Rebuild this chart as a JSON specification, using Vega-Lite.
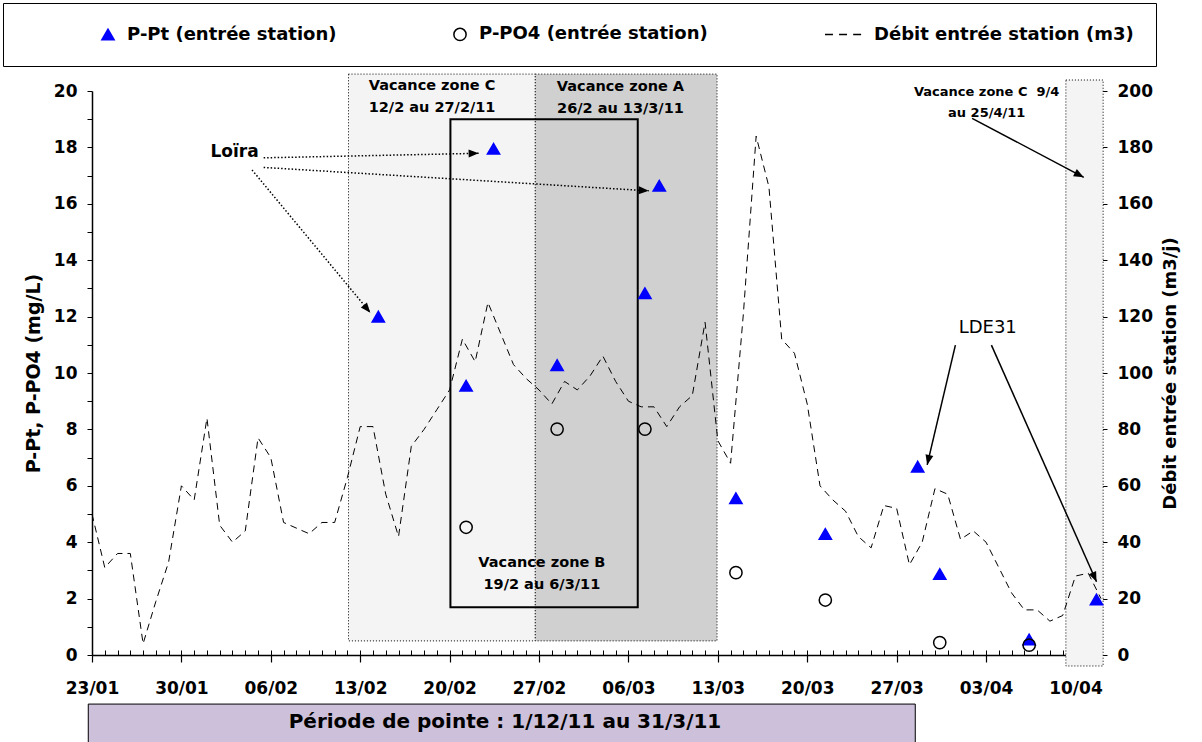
{
  "$schema": "https://vega.github.io/schema/vega-lite/v6.json",
  "width": 1009,
  "height": 564,
  "autosize": "none",
  "padding": {"left": 92, "top": 91, "right": 101, "bottom": 87},
  "background": "white",
  "config": {"font": "DejaVu Sans", "view": {"stroke": null}},
  "datasets": {
    "debit": [
      {"date": "2011-01-23T00:00", "q": 50}, {"date": "2011-01-24T00:00", "q": 31}, {"date": "2011-01-25T00:00", "q": 36},
      {"date": "2011-01-26T00:00", "q": 36}, {"date": "2011-01-27T00:00", "q": 4}, {"date": "2011-01-28T00:00", "q": 19},
      {"date": "2011-01-29T00:00", "q": 33}, {"date": "2011-01-30T00:00", "q": 60}, {"date": "2011-01-31T00:00", "q": 55},
      {"date": "2011-02-01T00:00", "q": 84}, {"date": "2011-02-02T00:00", "q": 46}, {"date": "2011-02-03T00:00", "q": 40},
      {"date": "2011-02-04T00:00", "q": 44}, {"date": "2011-02-05T00:00", "q": 77}, {"date": "2011-02-06T00:00", "q": 70},
      {"date": "2011-02-07T00:00", "q": 47}, {"date": "2011-02-08T00:00", "q": 45}, {"date": "2011-02-09T00:00", "q": 43},
      {"date": "2011-02-10T00:00", "q": 47}, {"date": "2011-02-11T00:00", "q": 47}, {"date": "2011-02-12T00:00", "q": 63},
      {"date": "2011-02-13T00:00", "q": 81}, {"date": "2011-02-14T00:00", "q": 81}, {"date": "2011-02-15T00:00", "q": 57},
      {"date": "2011-02-16T00:00", "q": 42}, {"date": "2011-02-17T00:00", "q": 74}, {"date": "2011-02-18T00:00", "q": 80},
      {"date": "2011-02-19T00:00", "q": 87}, {"date": "2011-02-20T00:00", "q": 94}, {"date": "2011-02-21T00:00", "q": 112},
      {"date": "2011-02-22T00:00", "q": 104}, {"date": "2011-02-23T00:00", "q": 125}, {"date": "2011-02-24T00:00", "q": 114},
      {"date": "2011-02-25T00:00", "q": 103}, {"date": "2011-02-26T00:00", "q": 98}, {"date": "2011-02-27T00:00", "q": 94},
      {"date": "2011-02-28T00:00", "q": 89}, {"date": "2011-03-01T00:00", "q": 97}, {"date": "2011-03-02T00:00", "q": 94},
      {"date": "2011-03-03T00:00", "q": 99}, {"date": "2011-03-04T00:00", "q": 106}, {"date": "2011-03-05T00:00", "q": 97},
      {"date": "2011-03-06T00:00", "q": 90}, {"date": "2011-03-07T00:00", "q": 88}, {"date": "2011-03-08T00:00", "q": 88},
      {"date": "2011-03-09T00:00", "q": 81}, {"date": "2011-03-10T00:00", "q": 88}, {"date": "2011-03-11T00:00", "q": 92},
      {"date": "2011-03-12T00:00", "q": 118}, {"date": "2011-03-13T00:00", "q": 76}, {"date": "2011-03-14T00:00", "q": 68},
      {"date": "2011-03-15T00:00", "q": 121}, {"date": "2011-03-16T00:00", "q": 184}, {"date": "2011-03-17T00:00", "q": 166},
      {"date": "2011-03-18T00:00", "q": 112}, {"date": "2011-03-19T00:00", "q": 107}, {"date": "2011-03-20T00:00", "q": 89},
      {"date": "2011-03-21T00:00", "q": 60}, {"date": "2011-03-22T00:00", "q": 55}, {"date": "2011-03-23T00:00", "q": 51},
      {"date": "2011-03-24T00:00", "q": 42}, {"date": "2011-03-25T00:00", "q": 38}, {"date": "2011-03-26T00:00", "q": 53},
      {"date": "2011-03-27T00:00", "q": 52}, {"date": "2011-03-28T00:00", "q": 32}, {"date": "2011-03-29T00:00", "q": 40},
      {"date": "2011-03-30T00:00", "q": 59}, {"date": "2011-03-31T00:00", "q": 57}, {"date": "2011-04-01T00:00", "q": 41},
      {"date": "2011-04-02T00:00", "q": 44}, {"date": "2011-04-03T00:00", "q": 40}, {"date": "2011-04-04T00:00", "q": 31},
      {"date": "2011-04-05T00:00", "q": 22}, {"date": "2011-04-06T00:00", "q": 16}, {"date": "2011-04-07T00:00", "q": 16},
      {"date": "2011-04-08T00:00", "q": 12}, {"date": "2011-04-09T00:00", "q": 14}, {"date": "2011-04-10T00:00", "q": 28},
      {"date": "2011-04-11T00:00", "q": 29}, {"date": "2011-04-12T00:00", "q": 20}
    ],
    "phosphore": [
      {"serie": "P-Pt (entrée station)", "date": "2011-02-14T10:00", "c": 12.0},
      {"serie": "P-Pt (entrée station)", "date": "2011-02-21T07:00", "c": 9.55},
      {"serie": "P-Pt (entrée station)", "date": "2011-02-23T10:30", "c": 17.95},
      {"serie": "P-Pt (entrée station)", "date": "2011-02-28T10:00", "c": 10.28},
      {"serie": "P-Pt (entrée station)", "date": "2011-03-07T07:00", "c": 12.83},
      {"serie": "P-Pt (entrée station)", "date": "2011-03-08T10:00", "c": 16.64},
      {"serie": "P-Pt (entrée station)", "date": "2011-03-14T10:00", "c": 5.56},
      {"serie": "P-Pt (entrée station)", "date": "2011-03-21T10:00", "c": 4.29},
      {"serie": "P-Pt (entrée station)", "date": "2011-03-28T15:30", "c": 6.68},
      {"serie": "P-Pt (entrée station)", "date": "2011-03-30T09:00", "c": 2.87},
      {"serie": "P-Pt (entrée station)", "date": "2011-04-06T09:00", "c": 0.55},
      {"serie": "P-Pt (entrée station)", "date": "2011-04-11T15:30", "c": 1.97},
      {"serie": "P-PO4 (entrée station)", "date": "2011-02-21T07:00", "c": 4.53},
      {"serie": "P-PO4 (entrée station)", "date": "2011-02-28T10:00", "c": 8.01},
      {"serie": "P-PO4 (entrée station)", "date": "2011-03-07T07:00", "c": 8.01},
      {"serie": "P-PO4 (entrée station)", "date": "2011-03-14T10:00", "c": 2.92},
      {"serie": "P-PO4 (entrée station)", "date": "2011-03-21T10:00", "c": 1.95},
      {"serie": "P-PO4 (entrée station)", "date": "2011-03-30T09:00", "c": 0.44},
      {"serie": "P-PO4 (entrée station)", "date": "2011-04-06T09:00", "c": 0.35}
    ],
    "vacances": [
      {"zone": "C", "debut": "2011-02-12T02:00", "fin": "2011-02-26T17:00"},
      {"zone": "A", "debut": "2011-02-26T17:00", "fin": "2011-03-12T22:30"},
      {"zone": "B", "debut": "2011-02-20T01:30", "fin": "2011-03-06T17:30"},
      {"zone": "C2", "debut": "2011-04-09T06:00", "fin": "2011-04-12T04:00"}
    ],
    "libelles": [
      {"groupe": "zone", "texte": "Vacance zone C\n12/2 au 27/2/11", "date": "2011-02-18T15:00", "valeur": 20.19},
      {"groupe": "zone", "texte": "Vacance zone A\n26/2 au 13/3/11", "date": "2011-03-05T09:00", "valeur": 20.15},
      {"groupe": "zone", "texte": "Vacance zone B\n19/2 au 6/3/11", "date": "2011-02-27T05:20", "valeur": 3.26},
      {"groupe": "zone2", "texte": "Vacance zone C\u00a0 9/4\nau 25/4/11", "date": "2011-04-03T01:10", "valeur": 19.98},
      {"groupe": "loira", "texte": "Loïra", "date": "2011-02-03T03:50", "valeur": 17.84},
      {"groupe": "lde", "texte": "LDE31", "date": "2011-04-03T03:07", "valeur": 11.6},
      {"groupe": "periode", "texte": "Période de pointe : 1/12/11 au 31/3/11", "date": "2011-02-24T08:00", "valeur": -2.38}
    ],
    "fleches": [
      {"id": "l1", "trait": "pointille", "de": "2011-02-04T12:43", "a": "2011-02-13T19:00", "v1": 17.2, "v2": 12.14},
      {"id": "l2", "trait": "pointille", "de": "2011-02-05T10:34", "a": "2011-02-22T06:29", "v1": 17.63, "v2": 17.79},
      {"id": "l3", "trait": "pointille", "de": "2011-02-05T10:34", "a": "2011-03-07T14:10", "v1": 17.29, "v2": 16.46},
      {"id": "c2", "trait": "plein", "de": "2011-04-01T21:50", "a": "2011-04-10T15:36", "v1": 19.03, "v2": 16.94},
      {"id": "d1", "trait": "plein", "de": "2011-03-31T14:24", "a": "2011-03-29T09:22", "v1": 10.99, "v2": 6.74},
      {"id": "d2", "trait": "plein", "de": "2011-04-03T10:05", "a": "2011-04-11T15:36", "v1": 10.99, "v2": 2.6}
    ]
  },
  "layer": [
    {
      "data": {"name": "vacances"},
      "transform": [{"filter": "datum.zone === 'C'"}],
      "mark": {"type": "rect", "fill": "#f4f4f4", "stroke": "black", "strokeWidth": 1, "strokeDash": [1, 2]},
      "encoding": {
        "x": {"field": "debut", "type": "temporal", "axis": null,
          "scale": {"domain": [{"year": 2011, "month": 1, "date": 23}, {"year": 2011, "month": 4, "date": 12}]}},
        "x2": {"field": "fin"},
        "y": {"datum": 20.6, "type": "quantitative", "scale": {"domain": [0, 20], "nice": false}, "axis": null},
        "y2": {"datum": 0.5}
      }
    },
    {
      "data": {"name": "vacances"},
      "transform": [{"filter": "datum.zone === 'A'"}],
      "mark": {"type": "rect", "fill": "#d0d0d0", "stroke": "black", "strokeWidth": 1, "strokeDash": [1, 2]},
      "encoding": {
        "x": {"field": "debut", "type": "temporal", "axis": null},
        "x2": {"field": "fin"},
        "y": {"datum": 20.6, "type": "quantitative", "scale": {"domain": [0, 20], "nice": false}, "axis": null},
        "y2": {"datum": 0.5}
      }
    },
    {
      "data": {"name": "vacances"},
      "transform": [{"filter": "datum.zone === 'C2'"}],
      "mark": {"type": "rect", "fill": "#f4f4f4", "stroke": "black", "strokeWidth": 1, "strokeDash": [1, 2]},
      "encoding": {
        "x": {"field": "debut", "type": "temporal", "axis": null},
        "x2": {"field": "fin"},
        "y": {"datum": 20.39, "type": "quantitative", "scale": {"domain": [0, 20], "nice": false}, "axis": null},
        "y2": {"datum": -0.39}
      }
    },
    {
      "data": {"name": "libelles"},
      "transform": [{"filter": "datum.groupe === 'periode'"}],
      "mark": {"type": "rect", "fill": "#ccc0da", "stroke": "black", "strokeWidth": 1},
      "encoding": {
        "x": {"datum": {"year": 2011, "month": 1, "date": 22, "hours": 17}, "type": "temporal", "axis": null},
        "x2": {"datum": {"year": 2011, "month": 3, "date": 28, "hours": 11}},
        "y": {"datum": -1.74, "type": "quantitative", "scale": {"domain": [0, 20], "nice": false}, "axis": null},
        "y2": {"datum": -3.4}
      }
    },
    {
      "data": {"name": "libelles"},
      "transform": [{"filter": "datum.groupe === 'periode'"}],
      "mark": {"type": "text", "fontSize": 20, "fontWeight": "bold", "color": "black", "align": "center", "baseline": "middle"},
      "encoding": {
        "x": {"field": "date", "type": "temporal", "axis": null},
        "y": {"field": "valeur", "type": "quantitative", "scale": {"domain": [0, 20], "nice": false}, "axis": null},
        "text": {"field": "texte"}
      }
    },
    {
      "data": {"name": "vacances"},
      "transform": [{"filter": "datum.zone === 'B'"}],
      "mark": {"type": "rect", "fill": null, "fillOpacity": 0, "stroke": "black", "strokeWidth": 2},
      "encoding": {
        "x": {"field": "debut", "type": "temporal", "axis": null},
        "x2": {"field": "fin"},
        "y": {"datum": 19.0, "type": "quantitative", "scale": {"domain": [0, 20], "nice": false}, "axis": null},
        "y2": {"datum": 1.69}
      }
    },
    {
      "data": {"name": "libelles"},
      "transform": [{"filter": "datum.groupe === 'zone'"}],
      "mark": {"type": "text", "fontSize": 14.5, "fontWeight": "bold", "color": "black", "align": "center", "baseline": "middle", "lineBreak": "\n", "lineHeight": 22},
      "encoding": {
        "x": {"field": "date", "type": "temporal", "axis": null},
        "y": {"field": "valeur", "type": "quantitative", "scale": {"domain": [0, 20], "nice": false}, "axis": null},
        "text": {"field": "texte"}
      }
    },
    {
      "data": {"name": "libelles"},
      "transform": [{"filter": "datum.groupe === 'zone2'"}],
      "mark": {"type": "text", "fontSize": 13, "fontWeight": "bold", "color": "black", "align": "center", "baseline": "middle", "lineBreak": "\n", "lineHeight": 21},
      "encoding": {
        "x": {"field": "date", "type": "temporal", "axis": null},
        "y": {"field": "valeur", "type": "quantitative", "scale": {"domain": [0, 20], "nice": false}, "axis": null},
        "text": {"field": "texte"}
      }
    },
    {
      "data": {"name": "libelles"},
      "transform": [{"filter": "datum.groupe === 'loira'"}],
      "mark": {"type": "text", "fontSize": 17, "fontWeight": "bold", "color": "black", "align": "center", "baseline": "middle"},
      "encoding": {
        "x": {"field": "date", "type": "temporal", "axis": null},
        "y": {"field": "valeur", "type": "quantitative", "scale": {"domain": [0, 20], "nice": false}, "axis": null},
        "text": {"field": "texte"}
      }
    },
    {
      "data": {"name": "libelles"},
      "transform": [{"filter": "datum.groupe === 'lde'"}],
      "mark": {"type": "text", "fontSize": 18, "fontWeight": "normal", "color": "black", "align": "center", "baseline": "middle"},
      "encoding": {
        "x": {"field": "date", "type": "temporal", "axis": null},
        "y": {"field": "valeur", "type": "quantitative", "scale": {"domain": [0, 20], "nice": false}, "axis": null},
        "text": {"field": "texte"}
      }
    },
    {
      "data": {"name": "fleches"},
      "transform": [{"filter": "datum.trait === 'pointille'"}],
      "mark": {"type": "rule", "color": "black", "strokeWidth": 1.5, "strokeDash": [1.5, 2]},
      "encoding": {
        "x": {"field": "de", "type": "temporal", "axis": null},
        "x2": {"field": "a"},
        "y": {"field": "v1", "type": "quantitative", "scale": {"domain": [0, 20], "nice": false}, "axis": null},
        "y2": {"field": "v2"}
      }
    },
    {
      "data": {"name": "fleches"},
      "transform": [{"filter": "datum.trait === 'plein'"}],
      "mark": {"type": "rule", "color": "black", "strokeWidth": 1.5},
      "encoding": {
        "x": {"field": "de", "type": "temporal", "axis": null},
        "x2": {"field": "a"},
        "y": {"field": "v1", "type": "quantitative", "scale": {"domain": [0, 20], "nice": false}, "axis": null},
        "y2": {"field": "v2"}
      }
    },
    {
      "data": {"name": "fleches"},
      "transform": [{"filter": "datum.id === 'l1'"}],
      "mark": {"type": "point", "shape": "M0,0L-2.5,-1L-2.5,1Z", "size": 64, "angle": 50, "filled": true, "color": "black", "opacity": 1},
      "encoding": {"x": {"field": "a", "type": "temporal", "axis": null}, "y": {"field": "v2", "type": "quantitative", "scale": {"domain": [0, 20], "nice": false}, "axis": null}}
    },
    {
      "data": {"name": "fleches"},
      "transform": [{"filter": "datum.id === 'l2'"}],
      "mark": {"type": "point", "shape": "M0,0L-2.5,-1L-2.5,1Z", "size": 64, "angle": -1, "filled": true, "color": "black", "opacity": 1},
      "encoding": {"x": {"field": "a", "type": "temporal", "axis": null}, "y": {"field": "v2", "type": "quantitative", "scale": {"domain": [0, 20], "nice": false}, "axis": null}}
    },
    {
      "data": {"name": "fleches"},
      "transform": [{"filter": "datum.id === 'l3'"}],
      "mark": {"type": "point", "shape": "M0,0L-2.5,-1L-2.5,1Z", "size": 64, "angle": 3.5, "filled": true, "color": "black", "opacity": 1},
      "encoding": {"x": {"field": "a", "type": "temporal", "axis": null}, "y": {"field": "v2", "type": "quantitative", "scale": {"domain": [0, 20], "nice": false}, "axis": null}}
    },
    {
      "data": {"name": "fleches"},
      "transform": [{"filter": "datum.id === 'c2'"}],
      "mark": {"type": "point", "shape": "M0,0L-2.5,-1L-2.5,1Z", "size": 64, "angle": 28, "filled": true, "color": "black", "opacity": 1},
      "encoding": {"x": {"field": "a", "type": "temporal", "axis": null}, "y": {"field": "v2", "type": "quantitative", "scale": {"domain": [0, 20], "nice": false}, "axis": null}}
    },
    {
      "data": {"name": "fleches"},
      "transform": [{"filter": "datum.id === 'd1'"}],
      "mark": {"type": "point", "shape": "M0,0L-2.5,-1L-2.5,1Z", "size": 64, "angle": 103, "filled": true, "color": "black", "opacity": 1},
      "encoding": {"x": {"field": "a", "type": "temporal", "axis": null}, "y": {"field": "v2", "type": "quantitative", "scale": {"domain": [0, 20], "nice": false}, "axis": null}}
    },
    {
      "data": {"name": "fleches"},
      "transform": [{"filter": "datum.id === 'd2'"}],
      "mark": {"type": "point", "shape": "M0,0L-2.5,-1L-2.5,1Z", "size": 64, "angle": 66, "filled": true, "color": "black", "opacity": 1},
      "encoding": {"x": {"field": "a", "type": "temporal", "axis": null}, "y": {"field": "v2", "type": "quantitative", "scale": {"domain": [0, 20], "nice": false}, "axis": null}}
    },
    {
      "data": {"name": "phosphore"},
      "mark": {"type": "point", "filled": true, "opacity": 1, "size": 150, "strokeWidth": 1.5},
      "encoding": {
        "x": {"field": "date", "type": "temporal",
          "axis": {"orient": "bottom", "title": null, "labels": false, "domain": false, "grid": false, "tickCount": {"interval": "day", "step": 1}, "tickSize": -5, "tickColor": "black", "tickWidth": 1}},
        "y": {"field": "c", "type": "quantitative", "scale": {"domain": [0, 20], "nice": false},
          "axis": {"orient": "left", "title": "P-Pt, P-PO4 (mg/L)", "values": [0,1,2,3,4,5,6,7,8,9,10,11,12,13,14,15,16,17,18,19,20],
            "labelExpr": "datum.value % 2 === 0 ? datum.label : ''", "labelOverlap": false, "tickSize": 5, "tickColor": "black", "tickWidth": 1,
            "domainColor": "black", "domainWidth": 1.5, "grid": false, "labelFontSize": 17, "labelFontWeight": "bold", "labelColor": "black",
            "labelPadding": 10, "titleFontSize": 19, "titleFontWeight": "bold", "titleColor": "black", "titlePadding": 10}},
        "shape": {"field": "serie", "type": "nominal",
          "scale": {"domain": ["P-Pt (entrée station)", "P-PO4 (entrée station)", "Débit entrée station (m3)"],
            "range": ["triangle-up", "circle", "M-4.9,0H-3.6M-2.6,0H-1.3M-0.3,0H1"]},
          "legend": {"orient": "none", "legendX": -89, "legendY": -88, "direction": "horizontal", "title": "\u00a0", "titleOrient": "left", "titlePadding": 74,
            "titleFontSize": 18, "padding": 22, "strokeColor": "black", "fillColor": "white", "labelFont": "DejaVu Sans", "labelFontSize": 18,
            "labelFontWeight": "bold", "labelColor": "black", "labelOffset": 10, "labelLimit": 800, "symbolSize": 150, "symbolStrokeWidth": 1.5, "columnPadding": 113,
            "labelExpr": "datum.value === 'Débit entrée station (m3)' ? datum.label + '\u00a0\u00a0\u00a0\u00a0\u00a0\u00a0\u00a0\u00a0' : datum.label"}},
        "fill": {"field": "serie", "type": "nominal",
          "scale": {"domain": ["P-Pt (entrée station)", "P-PO4 (entrée station)", "Débit entrée station (m3)"], "range": ["#0000ff", "transparent", "transparent"]},
          "legend": {"orient": "none", "legendX": -89, "legendY": -88, "direction": "horizontal", "title": "\u00a0", "titleOrient": "left", "titlePadding": 74,
            "titleFontSize": 18, "padding": 22, "strokeColor": "black", "fillColor": "white", "labelFont": "DejaVu Sans", "labelFontSize": 18,
            "labelFontWeight": "bold", "labelColor": "black", "labelOffset": 10, "labelLimit": 800, "symbolSize": 150, "symbolStrokeWidth": 1.5, "columnPadding": 113,
            "labelExpr": "datum.value === 'Débit entrée station (m3)' ? datum.label + '\u00a0\u00a0\u00a0\u00a0\u00a0\u00a0\u00a0\u00a0' : datum.label"}},
        "stroke": {"field": "serie", "type": "nominal",
          "scale": {"domain": ["P-Pt (entrée station)", "P-PO4 (entrée station)", "Débit entrée station (m3)"], "range": ["#0000ff", "black", "black"]},
          "legend": {"orient": "none", "legendX": -89, "legendY": -88, "direction": "horizontal", "title": "\u00a0", "titleOrient": "left", "titlePadding": 74,
            "titleFontSize": 18, "padding": 22, "strokeColor": "black", "fillColor": "white", "labelFont": "DejaVu Sans", "labelFontSize": 18,
            "labelFontWeight": "bold", "labelColor": "black", "labelOffset": 10, "labelLimit": 800, "symbolSize": 150, "symbolStrokeWidth": 1.5, "columnPadding": 113,
            "labelExpr": "datum.value === 'Débit entrée station (m3)' ? datum.label + '\u00a0\u00a0\u00a0\u00a0\u00a0\u00a0\u00a0\u00a0' : datum.label"}}
      }
    },
    {
      "data": {"name": "debit"},
      "mark": {"type": "line", "color": "black", "strokeWidth": 1, "strokeDash": [7, 5]},
      "encoding": {
        "x": {"field": "date", "type": "temporal",
          "scale": {"domain": [{"year": 2011, "month": 1, "date": 23}, {"year": 2011, "month": 4, "date": 12}]},
          "axis": {"orient": "bottom", "title": null, "grid": false, "format": "%d/%m", "labelFlush": false, "labelOverlap": false,
            "values": [{"year": 2011, "month": 1, "date": 23}, {"year": 2011, "month": 1, "date": 30}, {"year": 2011, "month": 2, "date": 6},
              {"year": 2011, "month": 2, "date": 13}, {"year": 2011, "month": 2, "date": 20}, {"year": 2011, "month": 2, "date": 27},
              {"year": 2011, "month": 3, "date": 6}, {"year": 2011, "month": 3, "date": 13}, {"year": 2011, "month": 3, "date": 20},
              {"year": 2011, "month": 3, "date": 27}, {"year": 2011, "month": 4, "date": 3}, {"year": 2011, "month": 4, "date": 10}],
            "tickSize": 7, "tickColor": "black", "tickWidth": 1.2, "domainColor": "black", "domainWidth": 1.5,
            "labelFontSize": 17, "labelFontWeight": "bold", "labelColor": "black", "labelPadding": 18}},
        "y": {"field": "q", "type": "quantitative", "scale": {"domain": [0, 200], "nice": false},
          "axis": {"orient": "right", "title": "Débit entrée station (m3/j)", "values": [0, 20, 40, 60, 80, 100, 120, 140, 160, 180, 200],
            "tickSize": 6, "tickColor": "black", "tickWidth": 1, "domainColor": "black", "domainWidth": 1.5, "grid": false,
            "labelFontSize": 17, "labelFontWeight": "bold", "labelColor": "black", "labelPadding": 10,
            "titleFontSize": 18, "titleFontWeight": "bold", "titleColor": "black", "titlePadding": 9, "titleAngle": 270, "titleBaseline": "top"}}
      }
    }
  ],
  "resolve": {"scale": {"y": "independent"}, "axis": {"x": "independent"}}
}
